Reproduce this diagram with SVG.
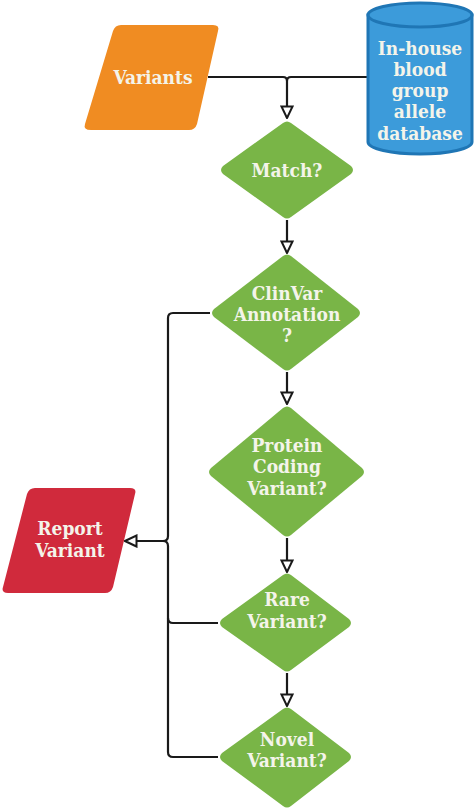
<svg xmlns="http://www.w3.org/2000/svg" width="474" height="809" viewBox="0 0 474 809">
<style>
.t{font-family:"DejaVu Serif Condensed","DejaVu Serif","Liberation Serif",serif;font-stretch:condensed;font-weight:bold;font-size:19px;fill:#F4F4EA;text-anchor:middle}
.c{fill:none;stroke:#1a1a1a;stroke-width:2.2}
.d{fill:#79B547}
</style>
<defs>
<marker id="ah" viewBox="0 0 14 14" refX="13" refY="7" markerWidth="14" markerHeight="14" markerUnits="userSpaceOnUse" orient="auto">
<path d="M1.5,1.5 L13,7 L1.5,12.5 Z" fill="#fff" stroke="#1a1a1a" stroke-width="2" stroke-linejoin="miter"/>
</marker>
</defs>
<g id="connectors">
<path class="c" d="M208,77 H283 Q287,77 287,81 V118" marker-end="url(#ah)"/>
<path class="c" d="M368,77 H291 Q287,77 287,81"/>
<path class="c" d="M287,220 V253" marker-end="url(#ah)"/>
<path class="c" d="M287,372 V404" marker-end="url(#ah)"/>
<path class="c" d="M287,538 V572" marker-end="url(#ah)"/>
<path class="c" d="M287,673 V706" marker-end="url(#ah)"/>
<path class="c" d="M210,313 H173 Q168,313 168,318 V536 Q168,541 163,541 H125" marker-end="url(#ah)"/>
<path class="c" d="M163,541 Q168,541 168,546 V752 Q168,757 173,757 H218"/>
<path class="c" d="M168,618 Q168,623 173,623 H218"/>
</g>
<g id="variants">
<path d="M113,31 Q115,25 121,25 H213 Q220,25 218,31 L197,124 Q195,130 189,130 H91 Q83,130 85,124 Z" fill="#F08C22"/>
<text class="t" x="153" y="84">Variants</text>
</g>
<g id="database">
<path d="M368,15 V142 A52,12 0 0 0 472,142 V15 Z" fill="#3C9BDA" stroke="#1F76B5" stroke-width="3"/>
<ellipse cx="420" cy="15" rx="52" ry="12" fill="#3C9BDA" stroke="#1F76B5" stroke-width="3"/>
<text class="t" x="420" y="55">In-house</text>
<text class="t" x="420" y="76">blood</text>
<text class="t" x="420" y="97">group</text>
<text class="t" x="420" y="118">allele</text>
<text class="t" x="420" y="140">database</text>
</g>
<g id="match">
<path class="d" d="M283,123 Q287,120 291,123 L351,166 Q355,170 351,174 L291,217 Q287,220 283,217 L223,174 Q219,170 223,166 Z"/>
<text class="t" x="287" y="177">Match?</text>
</g>
<g id="clinvar">
<path class="d" d="M283,256 Q287,253 291,256 L358,309 Q362,313 358,317 L291,369 Q287,372 283,369 L214,317 Q210,313 214,309 Z"/>
<text class="t" x="287" y="300">ClinVar</text>
<text class="t" x="287" y="321">Annotation</text>
<text class="t" x="287" y="342">?</text>
</g>
<g id="protein">
<path class="d" d="M283,408 Q287,405 291,408 L362,468 Q366,472 362,476 L291,535 Q287,538 283,535 L211,476 Q207,472 211,468 Z"/>
<text class="t" x="287" y="452">Protein</text>
<text class="t" x="287" y="473">Coding</text>
<text class="t" x="287" y="495">Variant?</text>
</g>
<g id="report">
<path d="M27,494 Q29,488 35,488 H130 Q137,488 135,494 L113,587 Q111,593 105,593 H8 Q1,593 3,587 Z" fill="#D02A3C"/>
<text class="t" x="70" y="535">Report</text>
<text class="t" x="70" y="557">Variant</text>
</g>
<g id="rare">
<path class="d" d="M283,575 Q287,572 291,575 L349,619 Q353,623 349,627 L291,670 Q287,673 283,670 L222,627 Q218,623 222,619 Z"/>
<text class="t" x="287" y="606">Rare</text>
<text class="t" x="287" y="628">Variant?</text>
</g>
<g id="novel">
<path class="d" d="M283,709 Q287,706 291,709 L349,753 Q353,757 349,761 L291,806 Q287,809 283,806 L222,761 Q218,757 222,753 Z"/>
<text class="t" x="287" y="746">Novel</text>
<text class="t" x="287" y="767">Variant?</text>
</g>
</svg>
